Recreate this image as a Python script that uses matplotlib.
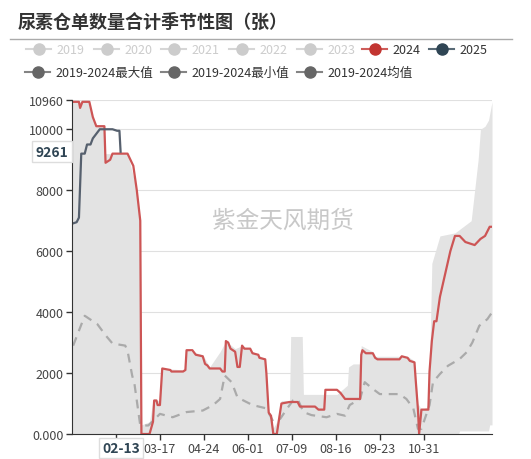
import matplotlib.pyplot as plt
import numpy as np

plt.rcParams['font.family'] = ['Noto Sans CJK SC', 'DejaVu Sans']

# x = days from start of season axis
d2024 = [0, 6, 7, 9, 15, 18, 21, 28, 29, 33, 35, 48, 53, 56, 59, 60, 67, 70, 71, 73, 74, 76, 78, 85, 86, 96, 98, 99,
         104, 107, 113, 115, 117, 119, 128, 130, 132, 133, 135, 137, 141, 143, 145, 147, 149, 154, 156, 161, 162, 167,
         168, 170, 172, 174, 177, 181, 188, 195, 197, 210, 213, 218, 219, 229, 232, 236, 249, 250, 251, 254, 260, 262,
         264, 283, 285, 290, 292, 296, 297, 299, 300, 302, 308, 309, 311, 313, 315, 318, 321, 324, 327, 331, 335, 340,
         348, 353, 357, 361, 363]
v2024 = [10900, 10900, 10700, 10900, 10900, 10400, 10100, 10100, 8900, 9000, 9200, 9200, 8800, 8000, 7000, 0, 0, 400,
         1100, 1100, 950, 950, 2150, 2100, 2050, 2050, 2100, 2750, 2750, 2600, 2550, 2300, 2250, 2150, 2150, 2050, 2050,
         3050, 3000, 2800, 2700, 2200, 2200, 2900, 2800, 2800, 2650, 2600, 2500, 2450, 2000, 700, 600, 0, 0, 1000, 1050,
         1050, 900, 900, 800, 800, 1450, 1450, 1350, 1150, 1150, 2600, 2750, 2650, 2650, 2500, 2450, 2450, 2550, 2500,
         2400, 2350, 1800, 800, 0, 800, 800, 2050, 3050, 3700, 3700, 4500, 5000, 5500, 6000, 6500, 6500, 6300, 6200,
         6400, 6500, 6800, 6800]

d2025 = [0, 4, 6, 8, 11, 13, 16, 18, 20, 22, 24, 35, 39, 41, 42]
v2025 = [6900, 6950, 7100, 9200, 9200, 9500, 9500, 9700, 9800, 9900, 10000, 10000, 9950, 9950, 9261]

d_max = [0, 15, 18, 21, 28, 29, 48, 56, 59, 60, 67, 70, 76, 78, 98, 99, 113, 119, 128, 133, 141, 147, 161, 167, 168,
         170, 174, 177, 181, 188, 189, 199, 200, 229, 238, 239, 243, 249, 250, 260, 262, 290, 296, 299, 302, 308, 309,
         311, 318, 331, 345, 348, 351, 353, 357, 360, 363]
v_max = [10900, 10900, 10400, 10100, 10100, 9200, 9200, 8000, 7000, 300, 400, 1100, 1100, 2150, 2100, 2750, 2600, 2200,
         2700, 3050, 2800, 2900, 2600, 2450, 2000, 800, 200, 400, 1100, 1100, 3200, 3200, 1300, 1300, 1600, 2200, 2300,
         2300, 2900, 2700, 2550, 2550, 2400, 1000, 800, 900, 2100, 5600, 6500, 6600, 7000, 8000, 9000, 10000, 10100,
         10300, 10900]
d_min = [0, 334, 335, 360, 361, 363]
v_min = [0, 0, 100, 100, 300, 300]

d_mean = [1, 11, 22, 29, 35, 46, 48, 52, 54, 59, 66, 76, 87, 99, 113, 122, 128, 132, 138, 143, 156, 168, 174, 180, 186,
          191, 195, 200, 207, 220, 229, 236, 240, 249, 253, 260, 266, 283, 289, 295, 299, 302, 309, 312, 318, 325, 335,
          341, 346, 352, 359, 363]
v_mean = [2900, 3880, 3600, 3240, 2970, 2900, 2730, 1920, 1640, 280, 280, 660, 550, 720, 770, 950, 1150, 1920, 1700,
          1200, 950, 840, 400, 500, 840, 1100, 1150, 720, 620, 550, 660, 600, 950, 1150, 1700, 1480, 1310, 1310, 1150,
          840, 170, 170, 950, 1700, 1970, 2240, 2460, 2680, 3000, 3550, 3770, 3990]

tick_days = [38, 76, 114, 152, 190, 228, 266, 304]
tick_labels = ['02-13', '03-17', '04-24', '06-01', '07-09', '08-16', '09-23', '10-31']

fig = plt.figure(figsize=(5.31, 4.60), dpi=100)
ax = fig.add_axes([72 / 531, 25 / 460, 420 / 531, 334 / 460])

grid = np.arange(0, 364)
upper = np.interp(grid, d_max, v_max)
lower = np.interp(grid, d_min, v_min)
ax.fill_between(grid, lower, upper, color='#e3e3e3', lw=0)
ax.plot(d_mean, v_mean, color='#aaaaaa', lw=1.6, ls=(0, (4, 3)))
ax.plot(d2024, v2024, color='#cd5555', lw=1.6)
ax.plot(d2025, v2025, color='#56606e', lw=1.6)

ax.set_xlim(0, 363)
ax.set_ylim(0, 10960)
ax.set_yticks([0, 2000, 4000, 6000, 8000, 10000, 10960])
ax.set_yticklabels(['0.000', '2000', '4000', '6000', '8000', '10000', '10960'], color='#444', fontsize=9)
ax.set_xticks(tick_days)
ax.set_xticklabels(tick_labels, color='#444', fontsize=9)
ax.get_xticklabels()[0].set_visible(False)
ax.grid(axis='y', color='#e0e0e0', lw=0.8)
ax.tick_params(length=4, color='#333', width=1, pad=2)
for s in ['top', 'right']:
    ax.spines[s].set_visible(False)
for s in ['left', 'bottom']:
    ax.spines[s].set_color('#333')
ax.set_axisbelow(True)

# axis pointer labels
fig.text(121 / 531, 1 - 449 / 460, '02-13', ha='center', va='center', fontsize=10, fontweight='bold',
         color='#2f4554', bbox=dict(boxstyle='square,pad=0.2', fc='white', ec='#dddddd'))
ax.text(-3, 9261, '9261', ha='right', va='center', fontsize=10, fontweight='bold', color='#2f4554',
        bbox=dict(boxstyle='square,pad=0.25', fc='white', ec='#dddddd'), clip_on=False)

ax.text(182, 7000, '紫金天风期货', ha='center', va='center', fontsize=17, color='#c8c8c8')

fig.text(18 / 531, 1 - 22 / 460, '尿素仓单数量合计季节性图（张）', fontsize=13, fontweight='bold', color='#333',
         va='center', family=['Noto Sans CJK SC'])
fig.add_artist(plt.Line2D([10 / 531, 512 / 531], [1 - 40 / 460] * 2, color='#aaaaaa', lw=1))

legend = [('2019', '#cccccc', '#cccccc', 39, 50), ('2020', '#cccccc', '#cccccc', 107, 50),
          ('2021', '#cccccc', '#cccccc', 174, 50), ('2022', '#cccccc', '#cccccc', 242, 50),
          ('2023', '#cccccc', '#cccccc', 310, 50), ('2024', '#c23531', '#333', 375, 50),
          ('2025', '#2f4554', '#333', 442, 50), ('2019-2024最大值', '#666666', '#333', 38, 73),
          ('2019-2024最小值', '#666666', '#333', 174, 73), ('2019-2024均值', '#666666', '#333', 310, 73)]
for label, c, tc, x, y in legend:
    yy = 1 - y / 460
    fig.add_artist(plt.Line2D([(x - 13) / 531, (x + 12) / 531], [yy, yy], color=c, lw=1.5, alpha=0.8))
    fig.add_artist(plt.Line2D([x / 531], [yy], marker='o', ms=8, color=c, lw=0))
    fig.text((x + 17) / 531, yy, label, fontsize=9, color=tc, va='center')

fig.savefig('out.png', dpi=100)
